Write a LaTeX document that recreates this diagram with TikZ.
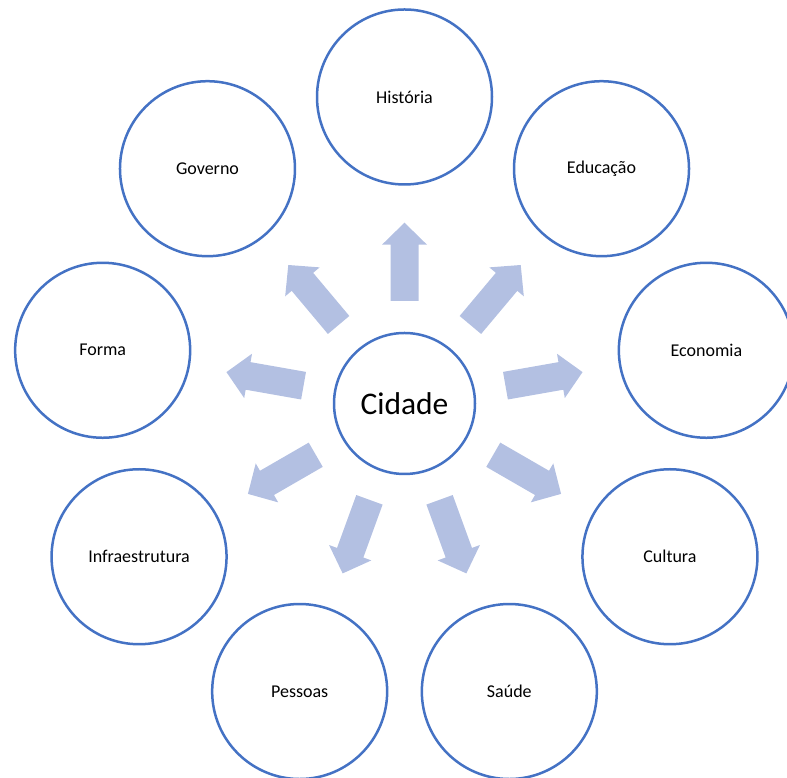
\documentclass[tikz,border=0pt]{standalone}
\usepackage{fontspec}
\setmainfont{Carlito}
\usetikzlibrary{calc}
\definecolor{cblue}{RGB}{68,114,196}
\definecolor{afill}{RGB}{179,192,226}
\begin{document}
\begin{tikzpicture}[x=1pt,y=1pt,
  outer/.style={circle,draw=cblue,line width=2.5pt,minimum size=175pt,inner sep=0pt,
    font=\fontsize{18}{21}\selectfont},
  hub/.style={circle,draw=cblue,line width=2.5pt,minimum size=141pt,inner sep=0pt,
    font=\fontsize{31.5}{36}\selectfont},
  blockarrow/.style={fill=afill}]
\useasboundingbox (0,0) rectangle (787,778);
\clip (0,0) rectangle (787,778);
\node[hub] (c) at (404.5,374.5) {Cidade};
\foreach \n/\t/\a in {hist/História/90, edu/Educação/50, eco/Economia/10,
  cul/Cultura/-30, sau/Saúde/-70, pes/Pessoas/-110, inf/Infraestrutura/-150,
  for/Forma/-190, gov/Governo/-230}
  \node[outer] (\n) at ($(c.center)+(\a:306.5)$) {\t};
\foreach \a in {90,50,10,-30,-70,-110,-150,-190,-230}{
  \begin{scope}[shift={(c.center)},rotate=\a]
    \fill[blockarrow] (102.5,-14) -- (158.8,-14) -- (158.8,-22.5) -- (180.8,0)
      -- (158.8,22.5) -- (158.8,14) -- (102.5,14) -- cycle;
  \end{scope}
}
\end{tikzpicture}
\end{document}
